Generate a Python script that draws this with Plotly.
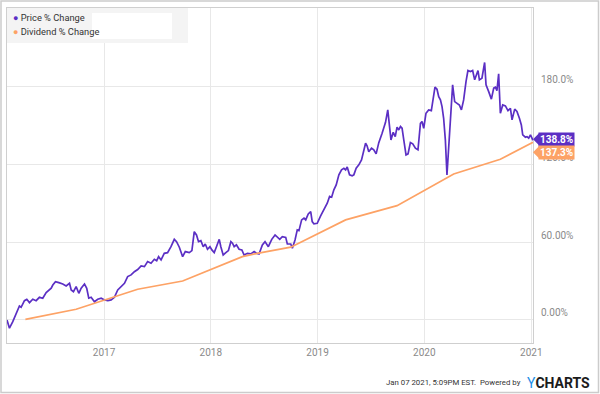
import datetime as dt
import plotly.graph_objects as go

# ---- data (decimal years, % change) ----
price_t = [2016.093, 2016.116, 2016.147, 2016.179, 2016.209, 2016.225, 2016.256, 2016.278, 2016.303, 2016.334,
           2016.365, 2016.396, 2016.427, 2016.459, 2016.483, 2016.506, 2016.521, 2016.546, 2016.577, 2016.614,
           2016.646, 2016.677, 2016.693, 2016.714, 2016.739, 2016.764, 2016.786, 2016.817, 2016.838, 2016.857,
           2016.879, 2016.910, 2016.941, 2016.973, 2017.004, 2017.035, 2017.066, 2017.097, 2017.128, 2017.160,
           2017.191, 2017.221, 2017.253, 2017.284, 2017.315, 2017.347, 2017.378, 2017.408, 2017.440, 2017.471,
           2017.493, 2017.511, 2017.534, 2017.564, 2017.595, 2017.627, 2017.658, 2017.679, 2017.705, 2017.736,
           2017.761, 2017.798, 2017.823, 2017.845, 2017.866, 2017.885, 2017.907, 2017.929, 2017.948, 2017.969,
           2017.992, 2018.010, 2018.032, 2018.053, 2018.079, 2018.094, 2018.116, 2018.141, 2018.165, 2018.188,
           2018.203, 2018.219, 2018.240, 2018.265, 2018.291, 2018.312, 2018.343, 2018.375, 2018.406, 2018.427,
           2018.452, 2018.483, 2018.508, 2018.539, 2018.571, 2018.602, 2018.623, 2018.646, 2018.670, 2018.702,
           2018.717, 2018.749, 2018.764, 2018.789, 2018.810, 2018.826, 2018.851, 2018.873, 2018.889, 2018.913,
           2018.936, 2018.950, 2018.966, 2018.997, 2019.029, 2019.060, 2019.091, 2019.113, 2019.132, 2019.153,
           2019.175, 2019.200, 2019.225, 2019.247, 2019.263, 2019.278, 2019.300, 2019.324, 2019.340, 2019.362,
           2019.387, 2019.412, 2019.424, 2019.450, 2019.464, 2019.480, 2019.506, 2019.527, 2019.549, 2019.574,
           2019.605, 2019.637, 2019.658, 2019.673, 2019.688, 2019.709, 2019.728, 2019.745, 2019.761, 2019.777,
           2019.792, 2019.808, 2019.829, 2019.848, 2019.870, 2019.892, 2019.917, 2019.941, 2019.964, 2019.979,
           2019.995, 2020.016, 2020.041, 2020.066, 2020.088, 2020.100, 2020.119, 2020.135, 2020.151, 2020.166,
           2020.181, 2020.197, 2020.212, 2020.228, 2020.244, 2020.265, 2020.284, 2020.306, 2020.328, 2020.347,
           2020.368, 2020.390, 2020.408, 2020.431, 2020.452, 2020.471, 2020.483, 2020.502, 2020.515, 2020.539,
           2020.564, 2020.577, 2020.602, 2020.627, 2020.649, 2020.665, 2020.679, 2020.695, 2020.711, 2020.733,
           2020.758, 2020.782, 2020.805, 2020.820, 2020.845, 2020.866, 2020.889, 2020.907, 2020.920, 2020.945,
           2020.960, 2020.976, 2020.992, 2021.016]
price_pct = [0.0, -6.4, -1.3, 5.2, 10.8, 9.8, 14.9, 16.0, 13.4, 16.0,
             14.9, 17.5, 16.8, 21.1, 22.6, 24.5, 27.0, 29.6, 28.8, 27.8,
             26.3, 28.3, 23.2, 21.9, 25.7, 20.6, 24.5, 27.8, 24.5, 16.8,
             17.5, 14.1, 16.0, 16.8, 15.5, 14.9, 15.5, 17.5, 23.2, 26.0,
             28.3, 33.5, 34.8, 37.3, 39.0, 41.7, 41.2, 45.1, 43.8, 46.9,
             45.8, 48.9, 46.4, 51.5, 52.0, 56.6, 62.3, 60.5, 56.2, 48.9,
             52.8, 52.0, 53.6, 68.2, 65.7, 60.5, 61.3, 56.6, 58.7, 54.6,
             56.6, 54.1, 52.0, 56.6, 62.3, 56.6, 50.2, 52.0, 53.6, 60.5,
             59.3, 56.6, 58.0, 54.6, 54.1, 50.2, 51.5, 51.0, 52.8, 51.5,
             51.0, 58.0, 60.5, 56.6, 62.3, 65.7, 64.4, 62.3, 64.4, 63.8,
             58.7, 58.7, 55.4, 61.8, 69.6, 69.0, 77.3, 78.6, 77.3, 81.9,
             83.7, 76.0, 74.2, 74.7, 80.4, 85.0, 90.2, 95.4, 94.8, 100.5,
             104.3, 112.1, 116.0, 117.2, 116.0, 118.2, 112.1, 111.3, 112.1, 117.2,
             119.8, 123.6, 128.3, 136.5, 134.5, 130.0, 132.7, 131.4, 128.3, 137.0,
             144.3, 152.7, 162.3, 152.0, 139.1, 145.0, 141.6, 149.0, 146.8, 149.4,
             148.1, 139.1, 127.5, 128.3, 137.1, 136.1, 132.7, 131.4, 151.8, 153.3,
             148.1, 159.7, 162.3, 161.7, 172.5, 179.8, 178.2, 172.5, 170.0, 164.8,
             155.8, 139.1, 112.1, 131.4, 149.4, 181.6, 168.7, 167.4, 166.1, 162.3,
             170.0, 184.2, 192.7, 191.9, 192.7, 185.5, 188.6, 192.7, 185.5, 186.8,
             198.9, 181.6, 176.4, 170.6, 179.1, 179.8, 177.2, 190.1, 159.7, 166.1,
             165.4, 161.7, 163.5, 154.6, 162.9, 161.1, 155.8, 150.7, 143.0, 141.2,
             141.6, 140.4, 143.0, 138.8]

div_t = [2016.265, 2016.739, 2017.315, 2017.736, 2018.296, 2018.436, 2018.749,
         2019.263, 2019.745, 2020.212, 2020.275, 2020.711, 2021.016]
div_pct = [0.5, 8.3, 23.7, 30.1, 48.9, 51.5, 56.2,
           77.3, 88.3, 109.5, 112.8, 124.2, 137.3]

y_ticks = [0, 60, 120, 180]
y_tick_labels = ["0.00%", "60.00%", "120.0%", "180.0%"]
x_ticks = ["2017-01-01", "2018-01-01", "2019-01-01", "2020-01-01", "2021-01-01"]
x_tick_labels = ["2017", "2018", "2019", "2020", "2021"]

series_names = ["Price % Change", "Dividend % Change"]
PURPLE = "#5b2fc4"
ORANGE = "#fda265"


def to_date(t):
    y = int(t)
    start = dt.datetime(y, 1, 1)
    days = (dt.datetime(y + 1, 1, 1) - start).days
    return start + dt.timedelta(days=(t - y) * days)


price_x = [to_date(t) for t in price_t]
div_x = [to_date(t) for t in div_t]

fig = go.Figure()
fig.add_trace(go.Scatter(x=price_x, y=price_pct, mode="lines", name=series_names[0],
                         line=dict(color=PURPLE, width=1.7), showlegend=False))
fig.add_trace(go.Scatter(x=div_x, y=div_pct, mode="lines", name=series_names[1],
                         line=dict(color=ORANGE, width=1.7), showlegend=False))

GRID = "#e8e8e8"
TICK = "#8a8a8a"
fig.update_layout(
    width=600, height=394,
    margin=dict(l=7, r=67, t=8, b=51),
    paper_bgcolor="white", plot_bgcolor="white",
    font=dict(family="Roboto, Arial, sans-serif", size=10, color=TICK),
    xaxis=dict(range=[price_x[0], price_x[-1]], tickvals=x_ticks, ticktext=x_tick_labels,
               showgrid=True, gridcolor=GRID, gridwidth=1, zeroline=False,
               showline=True, linecolor="#cfcfcf", linewidth=1, mirror=True,
               ticks="", tickfont=dict(size=10, color=TICK)),
    yaxis=dict(range=[-17.8, 241], side="right", tickvals=y_ticks, ticktext=y_tick_labels,
               showgrid=True, gridcolor=GRID, gridwidth=1, zeroline=False,
               showline=True, linecolor="#cfcfcf", linewidth=1, mirror=True,
               ticks="", ticklabelposition="outside top", ticklabelstandoff=5,
               tickfont=dict(size=10, color=TICK)),
    showlegend=False,
)


def px_x(p):
    return (p - 7) / 526.0


def px_y(p):
    return (343 - p) / 335.0


# legend box (custom, drawn with shapes + annotations)
fig.add_shape(type="rect", xref="paper", yref="paper", x0=px_x(7), x1=px_x(188), y0=px_y(43), y1=px_y(8),
              fillcolor="#f4f4f4", line=dict(width=0), layer="above")
fig.add_shape(type="rect", xref="paper", yref="paper", x0=px_x(92), x1=px_x(172), y0=px_y(39), y1=px_y(13),
              fillcolor="white", line=dict(width=0), layer="above")
for i, (name, col) in enumerate(zip(series_names, [PURPLE, ORANGE])):
    fig.add_annotation(xref="paper", yref="paper", x=px_x(11), y=px_y(17 + 14 * i), xanchor="left",
                       yanchor="middle", showarrow=False,
                       text=f'<span style="color:{col}; font-size:9px">●</span> {name}',
                       font=dict(size=9.3, color="#333333", family="Roboto, Arial, sans-serif"))

# end-value labels
end_labels = [(price_pct[-1], PURPLE, 1), (div_pct[-1], ORANGE, -10)]
for val, col, shift in end_labels:
    fig.add_annotation(xref="paper", yref="y", x=1, y=val, xanchor="left", yanchor="middle",
                       xshift=5, yshift=shift, showarrow=False, text=f"<b>{val:.1f}%</b>",
                       font=dict(size=10, color="white", family="Roboto, Arial, sans-serif"),
                       bgcolor=col, borderpad=1)
    fig.add_shape(type="path", xref="paper", yref="y", xsizemode="pixel", ysizemode="pixel",
                  xanchor=1, yanchor=val, path=f"M 0,{shift} L 6,{shift + 6} L 6,{shift - 6} Z",
                  fillcolor=col, line=dict(width=0), layer="above")

# footer
fig.add_annotation(xref="paper", yref="paper", x=px_x(523), y=px_y(383), xanchor="right", yanchor="middle",
                   showarrow=False, text="Jan 07 2021, 5:09PM EST.  Powered by",
                   font=dict(size=7.8, color="#333333", family="Roboto, Arial, sans-serif"))
fig.add_annotation(xref="paper", yref="paper", x=px_x(525), y=px_y(383), xanchor="left", yanchor="middle",
                   showarrow=False,
                   text='<span style="color:#1e8fe6">Y</span><b>CHARTS</b>',
                   font=dict(size=14, color="#1b1b1b", family="Roboto, Arial, sans-serif"))

# outer frame
fig.add_shape(type="rect", xref="paper", yref="paper", x0=px_x(1), x1=px_x(598.5), y0=px_y(392.5), y1=px_y(1),
              line=dict(color="#cccccc", width=1.5), fillcolor="rgba(0,0,0,0)", layer="above")

fig.write_html("out.html", config={"displayModeBar": False},
               post_script="document.body.style.margin='0';document.body.style.padding='0';")
